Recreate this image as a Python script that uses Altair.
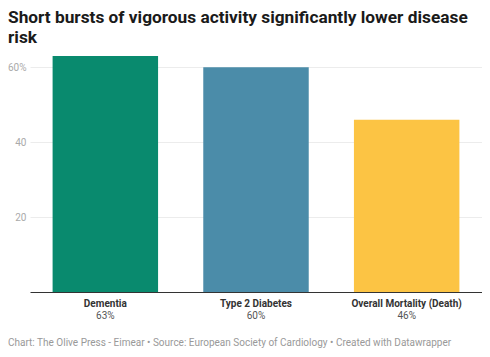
import altair as alt
import pandas as pd

categories = ["Dementia", "Type 2 Diabetes", "Overall Mortality (Death)"]
values = [63, 60, 46]
labels = ["63%", "60%", "46%"]
colors = ["#098a6e", "#4b8ca9", "#fcc444"]
title_lines = ["Short bursts of vigorous activity significantly lower disease", "risk"]
footer = "Chart: The Olive Press - Eimear \u2022 Source: European Society of Cardiology \u2022 Created with Datawrapper"

df = pd.DataFrame({"cat": categories, "val": values, "lab": labels})

W, H = 452, 236
FONT = "Roboto"

x = alt.X("cat:N", sort=categories, title=None,
          scale=alt.Scale(paddingInner=0.3, paddingOuter=0.15),
          axis=alt.Axis(labelAngle=0, labelFont=FONT, labelFontWeight="bold",
                        labelFontSize=10, labelColor="#333333", labelPadding=6,
                        ticks=False, domainColor="#333333", domainWidth=1))
y = alt.Y("val:Q", title=None,
          scale=alt.Scale(domain=[0, 63], nice=False),
          axis=alt.Axis(values=[20, 40, 60], labelExpr="datum.value == 60 ? '60%' : datum.label",
                        labelFont=FONT, labelFontSize=10, labelColor="#aaaaaa",
                        ticks=False, domain=False, gridColor="#ececec", labelPadding=4))

bars = alt.Chart(df).mark_bar().encode(
    x=x, y=y,
    color=alt.Color("cat:N", scale=alt.Scale(domain=categories, range=colors), legend=None),
)

pct = alt.Chart(df).mark_text(font=FONT, fontSize=10, color="#555555", baseline="middle", dy=24).encode(
    x=alt.X("cat:N", sort=categories),
    y=alt.datum(0),
    text="lab:N",
)

foot = alt.Chart(pd.DataFrame({"t": [footer]})).mark_text(
    font=FONT, fontSize=10, color="#999999", align="left", baseline="middle"
).encode(x=alt.value(-22), y=alt.value(H + 51), text="t:N")

chart = alt.layer(bars, pct, foot).properties(
    width=W, height=H,
    padding={"left": 22, "top": 48, "right": 0, "bottom": 57},
    autosize=alt.AutoSizeParams(type="none"),
    title=alt.TitleParams(title_lines, anchor="start", frame="group", dx=-22,
                          font=FONT, fontSize=17.3, fontWeight="bold", color="#1a1a1a",
                          lineHeight=20, offset=10),
).configure_view(stroke=None)

chart.save("out.html", embed_options={"renderer": "svg", "actions": False})
